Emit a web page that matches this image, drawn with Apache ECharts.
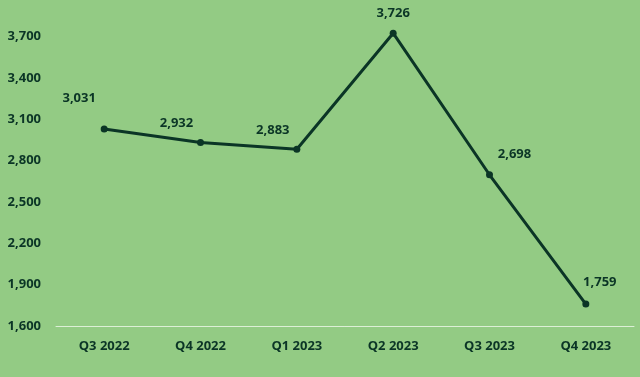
<!DOCTYPE html>
<html><head><meta charset="utf-8">
<script src="https://cdn.jsdelivr.net/npm/echarts@6/dist/echarts.min.js"></script>
<style>html,body{margin:0;padding:0;background:#93cb84;}#c{width:640px;height:377px;}</style>
</head><body><div id="c"></div>
<script>
const categories = ['Q3 2022','Q4 2022','Q1 2023','Q2 2023','Q3 2023','Q4 2023'];
const values = [3031, 2932, 2883, 3726, 2698, 1759];
const yTicks = [1600, 1900, 2200, 2500, 2800, 3100, 3400, 3700];
const labelOffsets = [[-25,-16],[-24,-4],[-24,-4],[0,-5],[25,-5],[14,-7]];

const dark = '#0b3526';
const chart = echarts.init(document.getElementById('c'));
chart.setOption({
  backgroundColor: '#93cb84',
  animation: false,
  grid: {left: 56, right: 6, top: 23, bottom: 51},
  xAxis: {
    type: 'category', data: categories, boundaryGap: true,
    axisLine: {show: true, lineStyle: {color: '#dcefd6', width: 1}},
    axisTick: {show: false},
    axisLabel: {color: dark, fontWeight: 'bold', fontSize: 13, fontFamily: 'Open Sans', margin: 14}
  },
  yAxis: {
    type: 'value', min: 1600, max: 3800, interval: 300,
    splitLine: {show: false}, axisLine: {show: false}, axisTick: {show: false},
    axisLabel: {color: dark, fontWeight: 'bold', fontSize: 13, fontFamily: 'Open Sans', margin: 15,
      formatter: v => yTicks.includes(v) ? v.toLocaleString('en-US') : ''}
  },
  series: [{
    type: 'line', data: values.map((v,i) => ({value: v, label: {offset: labelOffsets[i]}})),
    symbol: 'circle', symbolSize: 7,
    lineStyle: {color: dark, width: 3},
    itemStyle: {color: dark},
    label: {show: true, position: 'top', color: dark, fontWeight: 'bold', fontSize: 13, fontFamily: 'Open Sans',
      formatter: p => p.value.toLocaleString('en-US')}
  }]
});
</script></body></html>
